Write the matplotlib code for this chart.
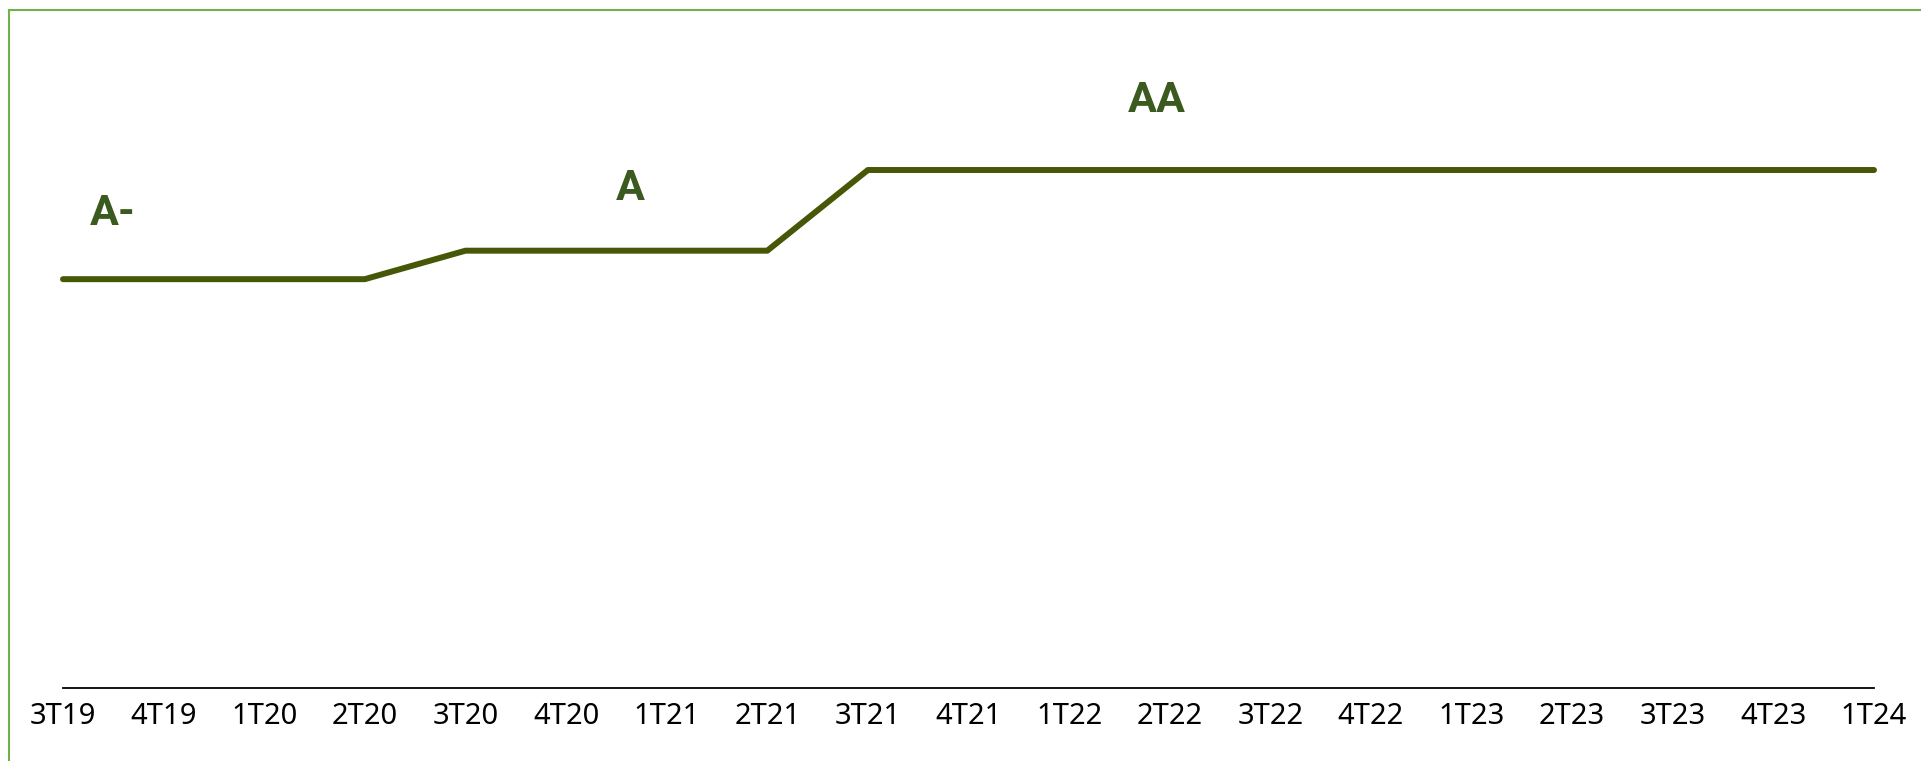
import matplotlib.pyplot as plt
from matplotlib.lines import Line2D

quarters = ["3T19", "4T19", "1T20", "2T20", "3T20", "4T20", "1T21", "2T21", "3T21",
            "4T21", "1T22", "2T22", "3T22", "4T22", "1T23", "2T23", "3T23", "4T23", "1T24"]
# rating expressed as a score (A- < A < AA)
scores = [6.03, 6.03, 6.03, 6.03, 6.45, 6.45, 6.45, 6.45, 7.64, 7.64,
          7.64, 7.64, 7.64, 7.64, 7.64, 7.64, 7.64, 7.64, 7.64]

rating_labels = ["A-", "A", "AA"]
label_x = [0.49, 5.64, 10.87]
label_y = [7.0, 7.37, 8.67]

line_color = "#475708"
label_color = "#3b5a1f"
border_color = "#72b04c"

fig = plt.figure(figsize=(19.21, 7.61), dpi=100)
ax = fig.add_axes([63 / 1921, 73 / 761, (1874 - 63) / 1921, 678 / 761])

x = list(range(len(quarters)))
ax.plot(x, scores, color=line_color, linewidth=4.3,
        solid_capstyle="round", solid_joinstyle="round", clip_on=False)

for txt, tx, ty in zip(rating_labels, label_x, label_y):
    ax.text(tx, ty, txt, ha="center", va="center", fontsize=31,
            fontweight="bold", color=label_color, family="Roboto")

ax.set_xlim(0, len(quarters) - 1)
ax.set_ylim(0, 10)
ax.set_xticks(x)
ax.set_xticklabels(quarters, fontsize=21, family="Noto Sans")
ax.tick_params(axis="x", length=0, pad=10)
ax.set_yticks([])
for side in ["top", "right", "left"]:
    ax.spines[side].set_visible(False)
ax.spines["bottom"].set_linewidth(1.3)
ax.spines["bottom"].set_color("black")

# outer frame (top and left only)
fig.add_artist(Line2D([9 / 1921, 1], [1 - 10 / 761, 1 - 10 / 761],
                      transform=fig.transFigure, color=border_color, linewidth=1.5))
fig.add_artist(Line2D([9 / 1921, 9 / 1921], [0, 1 - 10 / 761],
                      transform=fig.transFigure, color=border_color, linewidth=1.5))

fig.savefig("out.png", dpi=100)
